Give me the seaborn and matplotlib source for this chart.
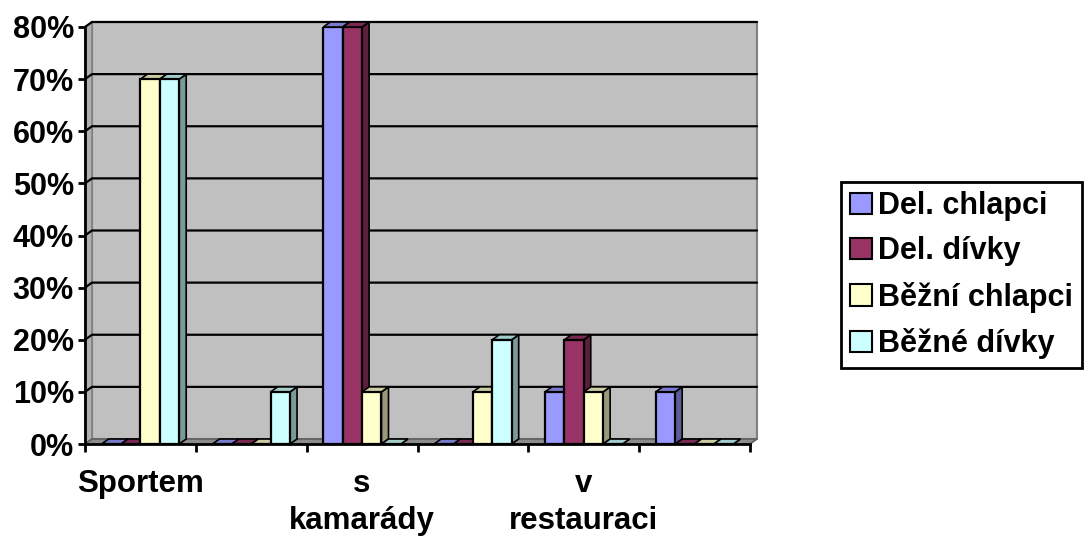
"""Volný čas – 3D sloupcový graf (Excel styl) přepsaný do seabornu."""
import numpy as np
import pandas as pd
import matplotlib.pyplot as plt
import seaborn as sns
from matplotlib.patches import Polygon, Patch
from matplotlib.ticker import PercentFormatter
from matplotlib.colors import to_rgb

# data
cat_ids = ['k1', 'k2', 'k3', 'k4', 'k5', 'k6']
tick_labels = ['Sportem', '', 's\nkamarády', '', 'v\nrestauraci', '']
series_names = ['Del. chlapci', 'Del. dívky', 'Běžní chlapci', 'Běžné dívky']
del_chlapci = [0.0, 0.0, 0.80, 0.0, 0.10, 0.10]
del_divky = [0.0, 0.0, 0.80, 0.0, 0.20, 0.0]
bezni_chlapci = [0.70, 0.0, 0.10, 0.10, 0.10, 0.0]
bezne_divky = [0.70, 0.10, 0.0, 0.20, 0.0, 0.0]
colors = ['#9999FF', '#993366', '#FFFFCC', '#CCFFFF']

W, H = 1085, 537
X0, X1 = 85, 750      # front axis in pixels
Y0, Y1 = 444, 27      # 0 % and 80 % in pixels
DX_PX, DY_PX = 7, 5   # 3D depth


def shade(c, f):
    r, g, b = to_rgb(c)
    return (r * f, g * f, b * f)


def main():
    sns.set_style('white')
    plt.rcParams['font.family'] = ['Liberation Sans', 'DejaVu Sans']
    plt.rcParams['font.weight'] = 'bold'
    for key in ['text.color', 'axes.labelcolor', 'xtick.color', 'ytick.color']:
        plt.rcParams[key] = 'black'

    df = pd.DataFrame({
        'kategorie': cat_ids * 4,
        'skupina': np.repeat(series_names, len(cat_ids)),
        'podil': del_chlapci + del_divky + bezni_chlapci + bezne_divky,
    })

    fig = plt.figure(figsize=(W / 100, H / 100), dpi=100)
    ax = fig.add_axes([X0 / W, (H - Y0) / H, (X1 - X0) / W, (Y0 - Y1) / H])
    sns.barplot(data=df, x='kategorie', y='podil', hue='skupina',
                order=cat_ids, hue_order=series_names, palette=colors,
                saturation=1, width=0.7, edgecolor='black', linewidth=1.6,
                errorbar=None, legend=False, ax=ax)

    ax.set_xlim(-0.5, 5.5)
    ax.set_ylim(0, 0.8)
    dx = DX_PX * 6 / (X1 - X0)
    dy = DY_PX * 0.8 / (Y0 - Y1)

    # 3D faces of the bars
    bars = sorted(ax.patches, key=lambda p: p.get_x())
    for k, p in enumerate(bars):
        x, w, h = p.get_x(), p.get_width(), p.get_height()
        fc = p.get_facecolor()[:3]
        z = 3 + k * 0.01
        p.set_zorder(z)
        top = [(x, h), (x + w, h), (x + w + dx, h + dy), (x + dx, h + dy)]
        side = [(x + w, 0), (x + w + dx, dy), (x + w + dx, h + dy), (x + w, h)]
        ax.add_patch(Polygon(side, closed=True, facecolor=shade(fc, 0.6),
                             edgecolor='black', lw=1.2, zorder=z - 0.005, clip_on=False))
        ax.add_patch(Polygon(top, closed=True, facecolor=shade(fc, 0.8),
                             edgecolor='black', lw=1.2, zorder=z - 0.004, clip_on=False))

    # walls and floor
    xl, xr, yt = -0.5, 5.5, 0.8
    ax.add_patch(Polygon([(xl + dx, dy), (xr + dx, dy), (xr + dx, yt + dy), (xl + dx, yt + dy)],
                         closed=True, facecolor='#C0C0C0', edgecolor='#808080',
                         lw=1.5, zorder=0.2, clip_on=False))
    ax.add_patch(Polygon([(xl, 0), (xl + dx, dy), (xl + dx, yt + dy), (xl, yt)],
                         closed=True, facecolor='#B0B0B0', edgecolor='#808080',
                         lw=1.2, zorder=0.3, clip_on=False))
    ax.add_patch(Polygon([(xl, 0), (xr, 0), (xr + dx, dy), (xl + dx, dy)],
                         closed=True, facecolor='#8C8C8C', edgecolor='#606060',
                         lw=1.2, zorder=0.4, clip_on=False))
    for yv in np.arange(0.1, 0.81, 0.1):
        ax.plot([xl, xl + dx, xr + dx], [yv, yv + dy, yv + dy], color='black',
                lw=1.6, zorder=0.5, clip_on=False)

    # axes styling
    for s in ['top', 'right']:
        ax.spines[s].set_visible(False)
    for s in ['left', 'bottom']:
        ax.spines[s].set_linewidth(2)
        ax.spines[s].set_color('black')
        ax.spines[s].set_zorder(5)
    ax.set_facecolor('none')
    ax.set_xlabel('')
    ax.set_ylabel('')

    ax.set_yticks(np.arange(0, 0.81, 0.1))
    ax.yaxis.set_major_formatter(PercentFormatter(1.0, decimals=0))
    ax.tick_params(axis='y', direction='out', length=5, width=2, pad=3,
                   labelsize=22, left=True)

    ax.set_xticks(np.arange(-0.5, 6, 1))
    ax.set_xticklabels([])
    ax.set_xticks(range(len(cat_ids)), minor=True)
    ax.set_xticklabels(tick_labels, minor=True, fontsize=22.5,
                       fontweight='bold', linespacing=1.3)
    ax.tick_params(axis='x', which='major', direction='out', length=6, width=2,
                   bottom=True)
    ax.tick_params(axis='x', which='minor', length=0, pad=18)
    for t in ax.get_yticklabels():
        t.set_fontweight('bold')

    handles = [Patch(facecolor=c, edgecolor='black', lw=1.5) for c in colors]
    leg = fig.legend(handles, series_names, loc='center left',
                     bbox_to_anchor=(841 / W, (H - 275) / H),
                     frameon=True, fancybox=False, edgecolor='black',
                     framealpha=1, prop={'size': 22, 'weight': 'bold'},
                     handlelength=0.7, handleheight=0.7, handletextpad=0.2,
                     labelspacing=0.5, borderpad=0.3, borderaxespad=0)
    leg.get_frame().set_linewidth(2)

    fig.savefig('out.png', dpi=100)
    plt.close(fig)


if __name__ == '__main__':
    main()
